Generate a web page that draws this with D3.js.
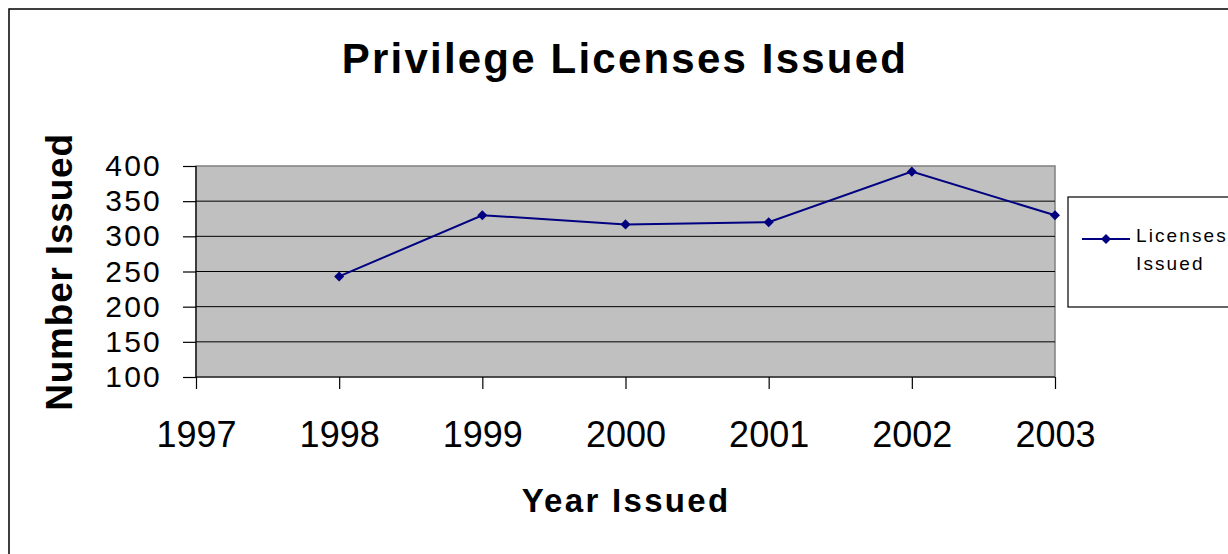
<!DOCTYPE html>
<html><head><meta charset="utf-8">
<script src="https://cdn.jsdelivr.net/npm/d3@7/dist/d3.min.js"></script>
<style>body{margin:0;background:#fff}svg{display:block}</style>
</head><body>
<svg id="c" width="1228" height="554"></svg>
<script>
const years = [1998, 1999, 2000, 2001, 2002, 2003];
const licenses = [243, 330, 317, 320, 392, 330];
const xTicks = [1997, 1998, 1999, 2000, 2001, 2002, 2003];
const yTicks = [100, 150, 200, 250, 300, 350, 400];
const seriesName = ["Licenses", "Issued"];

const svg = d3.select("#c");
const font = "Arial, 'Liberation Sans', sans-serif";

// outer chart border
svg.append("rect").attr("x", 9).attr("y", 9).attr("width", 1240).attr("height", 560)
  .attr("fill", "#fff").attr("stroke", "#000").attr("stroke-width", 1.5);

const L = 196, R = 1055, T = 166, B = 377;
const x = d3.scaleLinear().domain([1997, 2003]).range([L, R]);
const y = d3.scaleLinear().domain([100, 400]).range([B, T]);

// plot area
svg.append("rect").attr("x", L).attr("y", T).attr("width", R - L).attr("height", B - T)
  .attr("fill", "#C0C0C0").attr("stroke", "#808080").attr("stroke-width", 1.5);

// gridlines
svg.append("g").selectAll("line").data(yTicks.filter(d => d > 100 && d < 400)).join("line")
  .attr("x1", L).attr("x2", R).attr("y1", d => y(d)).attr("y2", d => y(d))
  .attr("stroke", "#000").attr("stroke-width", 1);

// y axis
const yAxis = d3.axisLeft(y).tickValues(yTicks).tickSize(13).tickPadding(21).tickFormat(d3.format("d"));
const gy = svg.append("g").attr("transform", `translate(${L},0)`).call(yAxis);
gy.select(".domain").attr("stroke", "#000").attr("stroke-width", 1.2).attr("d", `M0,${T}V${B}`);
gy.selectAll(".tick line").attr("stroke", "#000").attr("stroke-width", 1.2);
gy.selectAll(".tick text").attr("font-family", font).attr("font-size", 30)
  .attr("letter-spacing", 2.2).attr("fill", "#000");

// x axis
const xAxis = d3.axisBottom(x).tickValues(xTicks).tickSize(12).tickPadding(32).tickFormat(d3.format("d"));
const gx = svg.append("g").attr("transform", `translate(0,${B})`).call(xAxis);
gx.select(".domain").attr("stroke", "#000").attr("stroke-width", 1.2).attr("d", `M${L},0H${R}`);
gx.selectAll(".tick line").attr("stroke", "#000").attr("stroke-width", 1.2);
gx.selectAll(".tick text").attr("font-family", font).attr("font-size", 36).attr("fill", "#000");

// line
const pts = years.map((yr, i) => [yr, licenses[i]]);
svg.append("path").datum(pts)
  .attr("d", d3.line().x(d => x(d[0])).y(d => y(d[1])))
  .attr("fill", "none").attr("stroke", "#000080").attr("stroke-width", 2);
const diamond = d3.symbol().type(d3.symbolDiamond2).size(64);
svg.append("g").selectAll("path").data(pts).join("path")
  .attr("transform", d => `translate(${x(d[0])},${y(d[1])})`)
  .attr("d", diamond).attr("fill", "#000080");

// title
svg.append("text").attr("x", 625).attr("y", 73).attr("text-anchor", "middle")
  .attr("font-family", font).attr("font-weight", "bold").attr("font-size", 42)
  .attr("letter-spacing", 2.2).text("Privilege Licenses Issued");

// axis titles
svg.append("text").attr("x", 626).attr("y", 512).attr("text-anchor", "middle")
  .attr("font-family", font).attr("font-weight", "bold").attr("font-size", 33)
  .attr("letter-spacing", 2.3).text("Year Issued");
svg.append("text").attr("transform", "translate(72,272) rotate(-90)").attr("text-anchor", "middle")
  .attr("font-family", font).attr("font-weight", "bold").attr("font-size", 37)
  .attr("letter-spacing", 0.8).text("Number Issued");

// legend
svg.append("rect").attr("x", 1068).attr("y", 197).attr("width", 200).attr("height", 110)
  .attr("fill", "#fff").attr("stroke", "#000").attr("stroke-width", 1.2);
svg.append("line").attr("x1", 1082).attr("x2", 1130).attr("y1", 239).attr("y2", 239)
  .attr("stroke", "#000080").attr("stroke-width", 2);
svg.append("path").attr("transform", "translate(1106,239)").attr("d", diamond).attr("fill", "#000080");
svg.append("g").selectAll("text").data(seriesName).join("text")
  .attr("x", 1136).attr("y", (d, i) => 242 + i * 28)
  .attr("font-family", font).attr("font-size", 19).attr("letter-spacing", 2.1).text(d => d);
</script>
</body></html>
